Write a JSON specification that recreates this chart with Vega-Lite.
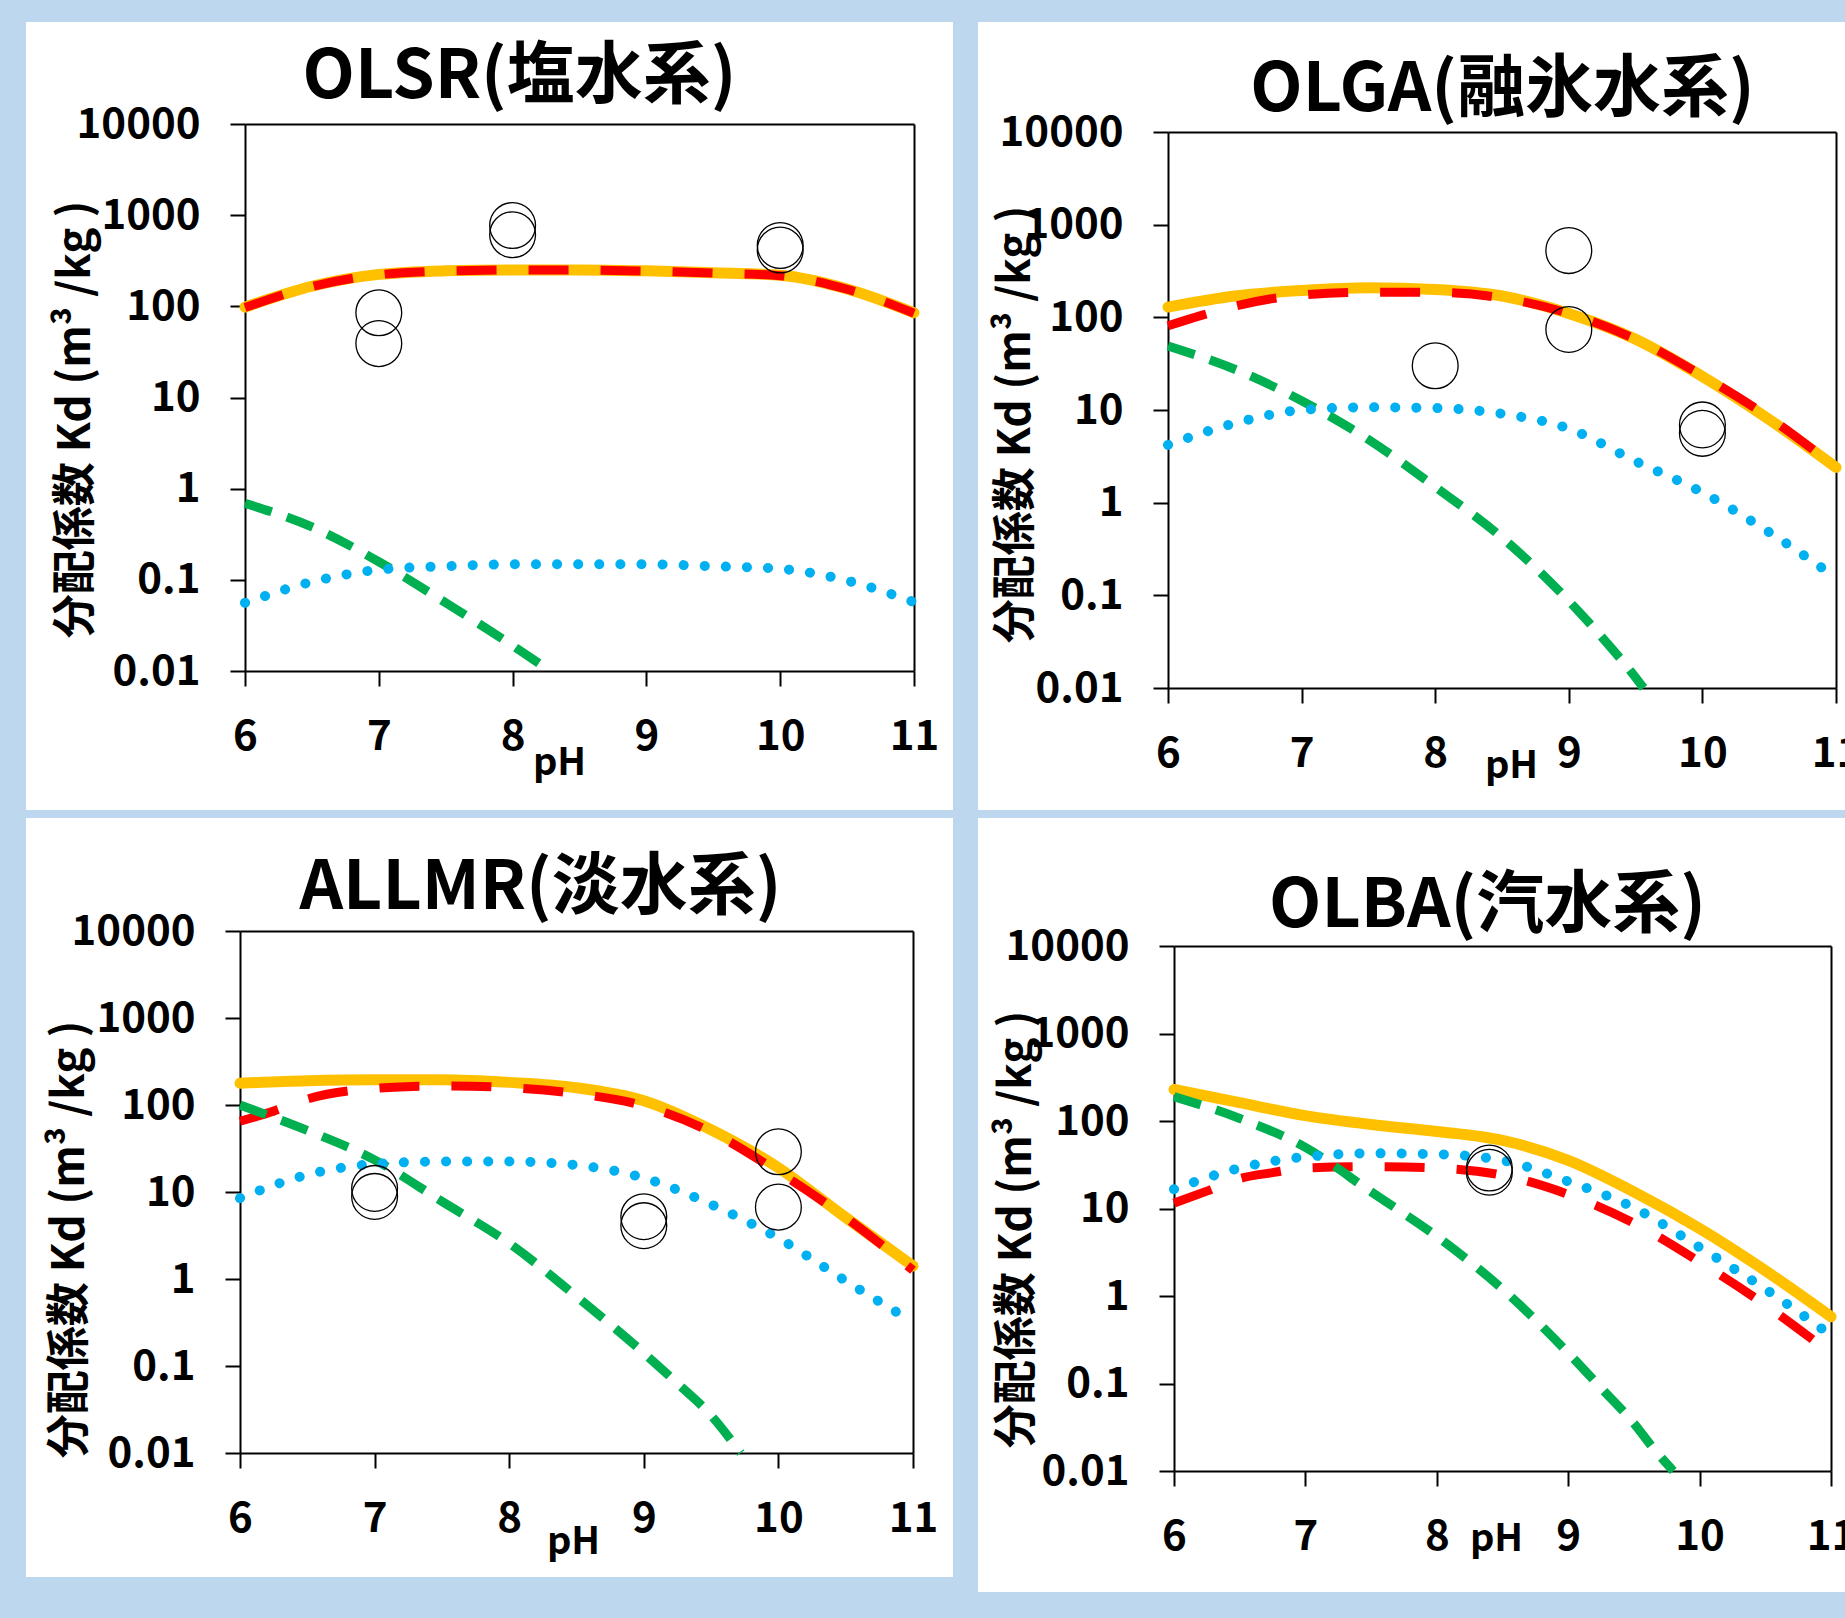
{
  "$schema": "https://vega.github.io/schema/vega-lite/v6.json",
  "background": "#BDD7EE",
  "padding": {"left": 26, "top": 22, "right": -15, "bottom": 26},
  "datasets": {
    "curves": [
      {"p":"OLSR","s":"total","pH":6,"Kd":98},{"p":"OLSR","s":"total","pH":6.5,"Kd":166},{"p":"OLSR","s":"total","pH":7,"Kd":224},{"p":"OLSR","s":"total","pH":7.5,"Kd":245},{"p":"OLSR","s":"total","pH":8,"Kd":251},{"p":"OLSR","s":"total","pH":8.5,"Kd":251},{"p":"OLSR","s":"total","pH":9,"Kd":245},{"p":"OLSR","s":"total","pH":9.5,"Kd":234},{"p":"OLSR","s":"total","pH":10,"Kd":219},{"p":"OLSR","s":"total","pH":10.5,"Kd":155},{"p":"OLSR","s":"total","pH":11,"Kd":85},
      {"p":"OLSR","s":"a","pH":6,"Kd":97},{"p":"OLSR","s":"a","pH":6.5,"Kd":165},{"p":"OLSR","s":"a","pH":7,"Kd":222},{"p":"OLSR","s":"a","pH":7.5,"Kd":244},{"p":"OLSR","s":"a","pH":8,"Kd":250},{"p":"OLSR","s":"a","pH":8.5,"Kd":250},{"p":"OLSR","s":"a","pH":9,"Kd":244},{"p":"OLSR","s":"a","pH":9.5,"Kd":232},{"p":"OLSR","s":"a","pH":10,"Kd":217},{"p":"OLSR","s":"a","pH":10.5,"Kd":154},{"p":"OLSR","s":"a","pH":11,"Kd":84},
      {"p":"OLSR","s":"b","pH":6,"Kd":0.69},{"p":"OLSR","s":"b","pH":6.5,"Kd":0.38},{"p":"OLSR","s":"b","pH":7,"Kd":0.158},{"p":"OLSR","s":"b","pH":7.5,"Kd":0.056},{"p":"OLSR","s":"b","pH":8,"Kd":0.019},{"p":"OLSR","s":"b","pH":8.28,"Kd":0.01},
      {"p":"OLSR","s":"c","pH":6,"Kd":0.056},{"p":"OLSR","s":"c","pH":6.5,"Kd":0.095},{"p":"OLSR","s":"c","pH":7,"Kd":0.129},{"p":"OLSR","s":"c","pH":7.5,"Kd":0.141},{"p":"OLSR","s":"c","pH":8,"Kd":0.148},{"p":"OLSR","s":"c","pH":8.5,"Kd":0.148},{"p":"OLSR","s":"c","pH":9,"Kd":0.148},{"p":"OLSR","s":"c","pH":9.5,"Kd":0.141},{"p":"OLSR","s":"c","pH":10,"Kd":0.132},{"p":"OLSR","s":"c","pH":10.5,"Kd":0.098},{"p":"OLSR","s":"c","pH":11,"Kd":0.057},

      {"p":"OLGA","s":"total","pH":6,"Kd":129},{"p":"OLGA","s":"total","pH":6.5,"Kd":170},{"p":"OLGA","s":"total","pH":7,"Kd":195},{"p":"OLGA","s":"total","pH":7.5,"Kd":209},{"p":"OLGA","s":"total","pH":8,"Kd":200},{"p":"OLGA","s":"total","pH":8.5,"Kd":170},{"p":"OLGA","s":"total","pH":9,"Kd":110},{"p":"OLGA","s":"total","pH":9.5,"Kd":58},{"p":"OLGA","s":"total","pH":10,"Kd":23},{"p":"OLGA","s":"total","pH":10.5,"Kd":7.9},{"p":"OLGA","s":"total","pH":11,"Kd":2.4},
      {"p":"OLGA","s":"a","pH":6,"Kd":81},{"p":"OLGA","s":"a","pH":6.25,"Kd":105},{"p":"OLGA","s":"a","pH":6.5,"Kd":132},{"p":"OLGA","s":"a","pH":7,"Kd":174},{"p":"OLGA","s":"a","pH":7.5,"Kd":186},{"p":"OLGA","s":"a","pH":8,"Kd":186},{"p":"OLGA","s":"a","pH":8.5,"Kd":162},{"p":"OLGA","s":"a","pH":9,"Kd":110},{"p":"OLGA","s":"a","pH":9.5,"Kd":58},{"p":"OLGA","s":"a","pH":10,"Kd":23.4},{"p":"OLGA","s":"a","pH":10.5,"Kd":8.3},{"p":"OLGA","s":"a","pH":11,"Kd":2.4},
      {"p":"OLGA","s":"b","pH":6,"Kd":49},{"p":"OLGA","s":"b","pH":6.5,"Kd":27.5},{"p":"OLGA","s":"b","pH":7,"Kd":12.6},{"p":"OLGA","s":"b","pH":7.5,"Kd":4.8},{"p":"OLGA","s":"b","pH":8,"Kd":1.48},{"p":"OLGA","s":"b","pH":8.5,"Kd":0.42},{"p":"OLGA","s":"b","pH":9,"Kd":0.087},{"p":"OLGA","s":"b","pH":9.25,"Kd":0.035},{"p":"OLGA","s":"b","pH":9.5,"Kd":0.013},{"p":"OLGA","s":"b","pH":9.56,"Kd":0.01},
      {"p":"OLGA","s":"c","pH":6,"Kd":4.2},{"p":"OLGA","s":"c","pH":6.5,"Kd":7.2},{"p":"OLGA","s":"c","pH":7,"Kd":10},{"p":"OLGA","s":"c","pH":7.5,"Kd":10.7},{"p":"OLGA","s":"c","pH":8,"Kd":10.5},{"p":"OLGA","s":"c","pH":8.5,"Kd":9.1},{"p":"OLGA","s":"c","pH":9,"Kd":6.3},{"p":"OLGA","s":"c","pH":9.5,"Kd":2.8},{"p":"OLGA","s":"c","pH":10,"Kd":1.29},{"p":"OLGA","s":"c","pH":10.5,"Kd":0.48},{"p":"OLGA","s":"c","pH":11,"Kd":0.155},

      {"p":"ALLMR","s":"total","pH":6,"Kd":178},{"p":"ALLMR","s":"total","pH":6.5,"Kd":190},{"p":"ALLMR","s":"total","pH":7,"Kd":195},{"p":"ALLMR","s":"total","pH":7.5,"Kd":195},{"p":"ALLMR","s":"total","pH":8,"Kd":182},{"p":"ALLMR","s":"total","pH":8.5,"Kd":158},{"p":"ALLMR","s":"total","pH":9,"Kd":112},{"p":"ALLMR","s":"total","pH":9.5,"Kd":52},{"p":"ALLMR","s":"total","pH":10,"Kd":19},{"p":"ALLMR","s":"total","pH":10.5,"Kd":5.1},{"p":"ALLMR","s":"total","pH":11,"Kd":1.41},
      {"p":"ALLMR","s":"a","pH":6,"Kd":65},{"p":"ALLMR","s":"a","pH":6.25,"Kd":85},{"p":"ALLMR","s":"a","pH":6.5,"Kd":117},{"p":"ALLMR","s":"a","pH":7,"Kd":155},{"p":"ALLMR","s":"a","pH":7.5,"Kd":166},{"p":"ALLMR","s":"a","pH":8,"Kd":158},{"p":"ALLMR","s":"a","pH":8.5,"Kd":135},{"p":"ALLMR","s":"a","pH":9,"Kd":98},{"p":"ALLMR","s":"a","pH":9.5,"Kd":49},{"p":"ALLMR","s":"a","pH":10,"Kd":17},{"p":"ALLMR","s":"a","pH":10.5,"Kd":5.1},{"p":"ALLMR","s":"a","pH":11,"Kd":1.26},
      {"p":"ALLMR","s":"b","pH":6,"Kd":100},{"p":"ALLMR","s":"b","pH":6.5,"Kd":51},{"p":"ALLMR","s":"b","pH":7,"Kd":23.4},{"p":"ALLMR","s":"b","pH":7.5,"Kd":7.8},{"p":"ALLMR","s":"b","pH":8,"Kd":2.57},{"p":"ALLMR","s":"b","pH":8.5,"Kd":0.63},{"p":"ALLMR","s":"b","pH":9,"Kd":0.141},{"p":"ALLMR","s":"b","pH":9.25,"Kd":0.063},{"p":"ALLMR","s":"b","pH":9.5,"Kd":0.027},{"p":"ALLMR","s":"b","pH":9.72,"Kd":0.01},
      {"p":"ALLMR","s":"c","pH":6,"Kd":8.5},{"p":"ALLMR","s":"c","pH":6.5,"Kd":15.8},{"p":"ALLMR","s":"c","pH":7,"Kd":21},{"p":"ALLMR","s":"c","pH":7.5,"Kd":22.4},{"p":"ALLMR","s":"c","pH":8,"Kd":22.4},{"p":"ALLMR","s":"c","pH":8.5,"Kd":20.4},{"p":"ALLMR","s":"c","pH":9,"Kd":14.5},{"p":"ALLMR","s":"c","pH":9.5,"Kd":7.2},{"p":"ALLMR","s":"c","pH":10,"Kd":2.95},{"p":"ALLMR","s":"c","pH":10.5,"Kd":0.95},{"p":"ALLMR","s":"c","pH":11,"Kd":0.32},

      {"p":"OLBA","s":"total","pH":6,"Kd":229},{"p":"OLBA","s":"total","pH":6.5,"Kd":162},{"p":"OLBA","s":"total","pH":7,"Kd":115},{"p":"OLBA","s":"total","pH":7.5,"Kd":91},{"p":"OLBA","s":"total","pH":8,"Kd":76},{"p":"OLBA","s":"total","pH":8.5,"Kd":60},{"p":"OLBA","s":"total","pH":9,"Kd":35.5},{"p":"OLBA","s":"total","pH":9.5,"Kd":15.5},{"p":"OLBA","s":"total","pH":10,"Kd":5.9},{"p":"OLBA","s":"total","pH":10.5,"Kd":1.95},{"p":"OLBA","s":"total","pH":11,"Kd":0.58},
      {"p":"OLBA","s":"a","pH":6,"Kd":11.5},{"p":"OLBA","s":"a","pH":6.25,"Kd":15.8},{"p":"OLBA","s":"a","pH":6.5,"Kd":22},{"p":"OLBA","s":"a","pH":6.75,"Kd":25.7},{"p":"OLBA","s":"a","pH":7,"Kd":29},{"p":"OLBA","s":"a","pH":7.5,"Kd":30},{"p":"OLBA","s":"a","pH":8,"Kd":29},{"p":"OLBA","s":"a","pH":8.5,"Kd":24},{"p":"OLBA","s":"a","pH":9,"Kd":14.5},{"p":"OLBA","s":"a","pH":9.5,"Kd":6.8},{"p":"OLBA","s":"a","pH":10,"Kd":2.45},{"p":"OLBA","s":"a","pH":10.5,"Kd":0.79},{"p":"OLBA","s":"a","pH":11,"Kd":0.22},
      {"p":"OLBA","s":"b","pH":6,"Kd":190},{"p":"OLBA","s":"b","pH":6.5,"Kd":107},{"p":"OLBA","s":"b","pH":7,"Kd":50},{"p":"OLBA","s":"b","pH":7.5,"Kd":15.5},{"p":"OLBA","s":"b","pH":8,"Kd":4.8},{"p":"OLBA","s":"b","pH":8.5,"Kd":1.2},{"p":"OLBA","s":"b","pH":9,"Kd":0.224},{"p":"OLBA","s":"b","pH":9.25,"Kd":0.089},{"p":"OLBA","s":"b","pH":9.5,"Kd":0.035},{"p":"OLBA","s":"b","pH":9.65,"Kd":0.018},{"p":"OLBA","s":"b","pH":9.8,"Kd":0.01},
      {"p":"OLBA","s":"c","pH":6,"Kd":16.6},{"p":"OLBA","s":"c","pH":6.5,"Kd":29},{"p":"OLBA","s":"c","pH":7,"Kd":39},{"p":"OLBA","s":"c","pH":7.5,"Kd":42.7},{"p":"OLBA","s":"c","pH":8,"Kd":41.7},{"p":"OLBA","s":"c","pH":8.5,"Kd":35.5},{"p":"OLBA","s":"c","pH":9,"Kd":20.4},{"p":"OLBA","s":"c","pH":9.5,"Kd":10.2},{"p":"OLBA","s":"c","pH":10,"Kd":3.6},{"p":"OLBA","s":"c","pH":10.5,"Kd":1.2},{"p":"OLBA","s":"c","pH":11,"Kd":0.355}
    ],
    "obs": [
      {"p":"OLSR","pH":7,"Kd":85},{"p":"OLSR","pH":7,"Kd":39},{"p":"OLSR","pH":8,"Kd":770},{"p":"OLSR","pH":8,"Kd":610},{"p":"OLSR","pH":10,"Kd":465},{"p":"OLSR","pH":10,"Kd":415},
      {"p":"OLGA","pH":8,"Kd":30},{"p":"OLGA","pH":9,"Kd":525},{"p":"OLGA","pH":9,"Kd":74},{"p":"OLGA","pH":10,"Kd":6.9},{"p":"OLGA","pH":10,"Kd":5.6},
      {"p":"ALLMR","pH":7,"Kd":11},{"p":"ALLMR","pH":7,"Kd":8.9},{"p":"ALLMR","pH":9,"Kd":5.2},{"p":"ALLMR","pH":9,"Kd":4.1},{"p":"ALLMR","pH":10,"Kd":29},{"p":"ALLMR","pH":10,"Kd":6.7},
      {"p":"OLBA","pH":8.4,"Kd":29},{"p":"OLBA","pH":8.4,"Kd":26}
    ]
  },
  "vconcat": [
    {
      "hconcat": [
        {
          "width": 927, "height": 788,
          "title": {"text": "OLSR(塩水系)", "fontSize": 68, "fontWeight": "bold", "color": "black", "anchor": "middle", "frame": "group", "offset": -67, "baseline": "alphabetic", "dx": 30, "dy": 77},
          "layer": [
            {
              "encoding": {
                "x": {"field": "pH", "type": "quantitative", "scale": {"domain": [6, 11], "range": [219, 888], "nice": false, "zero": false},
                      "axis": {"orient": "bottom", "offset": -139, "values": [6,7,8,9,10,11], "format": "d", "title": "pH", "titleX": 533, "titleY": 103, "titleBaseline": "alphabetic", "titleAlign": "center", "titleFontSize": 38, "labelPadding": 30}},
                "y": {"field": "Kd", "type": "quantitative", "scale": {"type": "log", "domain": [0.01, 10000], "range": [649, 102], "nice": false},
                      "axis": {"orient": "left", "offset": -219, "values": [0.01,0.1,1,10,100,1000,10000], "format": "~g", "title": "分配係数 Kd (m³ /kg )", "titleX": -169, "titleY": 397, "titleAlign": "center", "titleBaseline": "middle", "titleAngle": -90, "titleFontSize": 44, "labelPadding": 30}}
              },
              "layer": [
                {"data": {"name": "curves"}, "transform": [{"filter": "datum.p === 'OLSR' && datum.s === 'total'"}], "mark": {"type": "line", "color": "#FFC000", "strokeWidth": 11, "interpolate": "monotone", "strokeCap": "round"}},
                {"data": {"name": "curves"}, "transform": [{"filter": "datum.p === 'OLSR' && datum.s === 'a'"}], "mark": {"type": "line", "color": "#FF0000", "strokeWidth": 9, "interpolate": "monotone", "strokeDash": [40, 32]}},
                {"data": {"name": "curves"}, "transform": [{"filter": "datum.p === 'OLSR' && datum.s === 'b'"}], "mark": {"type": "line", "color": "#00B050", "strokeWidth": 9, "interpolate": "monotone", "strokeDash": [28, 16]}},
                {"data": {"name": "curves"}, "transform": [{"filter": "datum.p === 'OLSR' && datum.s === 'c'"}], "mark": {"type": "line", "color": "#00B0F0", "strokeWidth": 10, "interpolate": "monotone", "strokeDash": [0.1, 21], "strokeCap": "round"}}
              ]
            },
            {
              "data": {"name": "obs"}, "transform": [{"filter": "datum.p === 'OLSR'"}],
              "mark": {"type": "point", "shape": "circle", "filled": false, "stroke": "black", "strokeWidth": 1.3, "size": 2100, "opacity": 1},
              "encoding": {
                "x": {"field": "pH", "type": "quantitative", "axis": {"orient": "top", "offset": -102, "labels": false, "ticks": false, "title": null}},
                "y": {"field": "Kd", "type": "quantitative", "axis": {"orient": "right", "offset": -39, "labels": false, "ticks": false, "title": null}}
              }
            }
          ],
          "resolve": {"axis": {"x": "independent", "y": "independent"}}
        },
        {
          "width": 867, "height": 788,
          "title": {"text": "OLGA(融氷水系)", "fontSize": 68, "fontWeight": "bold", "color": "black", "anchor": "middle", "frame": "group", "offset": -80, "baseline": "alphabetic", "dx": 91, "dy": 77},
          "layer": [
            {
              "encoding": {
                "x": {"field": "pH", "type": "quantitative", "scale": {"domain": [6, 11], "range": [190, 858], "nice": false, "zero": false},
                      "axis": {"orient": "bottom", "offset": -122, "values": [6,7,8,9,10,11], "format": "d", "title": "pH", "titleX": 533, "titleY": 89, "titleBaseline": "alphabetic", "titleAlign": "center", "titleFontSize": 38, "labelPadding": 30}},
                "y": {"field": "Kd", "type": "quantitative", "scale": {"type": "log", "domain": [0.01, 10000], "range": [666, 110], "nice": false},
                      "axis": {"orient": "left", "offset": -190, "values": [0.01,0.1,1,10,100,1000,10000], "format": "~g", "title": "分配係数 Kd (m³ /kg )", "titleX": -152, "titleY": 402, "titleAlign": "center", "titleBaseline": "middle", "titleAngle": -90, "titleFontSize": 44, "labelPadding": 30}}
              },
              "layer": [
                {"data": {"name": "curves"}, "transform": [{"filter": "datum.p === 'OLGA' && datum.s === 'total'"}], "mark": {"type": "line", "color": "#FFC000", "strokeWidth": 11, "interpolate": "monotone", "strokeCap": "round"}},
                {"data": {"name": "curves"}, "transform": [{"filter": "datum.p === 'OLGA' && datum.s === 'a'"}], "mark": {"type": "line", "color": "#FF0000", "strokeWidth": 9, "interpolate": "monotone", "strokeDash": [40, 32]}},
                {"data": {"name": "curves"}, "transform": [{"filter": "datum.p === 'OLGA' && datum.s === 'b'"}], "mark": {"type": "line", "color": "#00B050", "strokeWidth": 9, "interpolate": "monotone", "strokeDash": [28, 16]}},
                {"data": {"name": "curves"}, "transform": [{"filter": "datum.p === 'OLGA' && datum.s === 'c'"}], "mark": {"type": "line", "color": "#00B0F0", "strokeWidth": 10, "interpolate": "monotone", "strokeDash": [0.1, 21], "strokeCap": "round"}}
              ]
            },
            {
              "data": {"name": "obs"}, "transform": [{"filter": "datum.p === 'OLGA'"}],
              "mark": {"type": "point", "shape": "circle", "filled": false, "stroke": "black", "strokeWidth": 1.3, "size": 2100, "opacity": 1},
              "encoding": {
                "x": {"field": "pH", "type": "quantitative", "axis": {"orient": "top", "offset": -110, "labels": false, "ticks": false, "title": null}},
                "y": {"field": "Kd", "type": "quantitative", "axis": {"orient": "right", "offset": -9, "labels": false, "ticks": false, "title": null}}
              }
            }
          ],
          "resolve": {"axis": {"x": "independent", "y": "independent"}}
        }
      ],
      "spacing": 25
    },
    {
      "hconcat": [
        {
          "width": 927, "height": 759,
          "title": {"text": "ALLMR(淡水系)", "fontSize": 68, "fontWeight": "bold", "color": "black", "anchor": "middle", "frame": "group", "offset": -82, "baseline": "alphabetic", "dx": 51, "dy": 77},
          "layer": [
            {
              "encoding": {
                "x": {"field": "pH", "type": "quantitative", "scale": {"domain": [6, 11], "range": [214, 887], "nice": false, "zero": false},
                      "axis": {"orient": "bottom", "offset": -124, "values": [6,7,8,9,10,11], "format": "d", "title": "pH", "titleX": 547, "titleY": 100, "titleBaseline": "alphabetic", "titleAlign": "center", "titleFontSize": 38, "labelPadding": 30}},
                "y": {"field": "Kd", "type": "quantitative", "scale": {"type": "log", "domain": [0.01, 10000], "range": [635, 113], "nice": false},
                      "axis": {"orient": "left", "offset": -214, "values": [0.01,0.1,1,10,100,1000,10000], "format": "~g", "title": "分配係数 Kd (m³ /kg )", "titleX": -170, "titleY": 421, "titleAlign": "center", "titleBaseline": "middle", "titleAngle": -90, "titleFontSize": 44, "labelPadding": 30}}
              },
              "layer": [
                {"data": {"name": "curves"}, "transform": [{"filter": "datum.p === 'ALLMR' && datum.s === 'total'"}], "mark": {"type": "line", "color": "#FFC000", "strokeWidth": 11, "interpolate": "monotone", "strokeCap": "round"}},
                {"data": {"name": "curves"}, "transform": [{"filter": "datum.p === 'ALLMR' && datum.s === 'a'"}], "mark": {"type": "line", "color": "#FF0000", "strokeWidth": 9, "interpolate": "monotone", "strokeDash": [40, 32]}},
                {"data": {"name": "curves"}, "transform": [{"filter": "datum.p === 'ALLMR' && datum.s === 'b'"}], "mark": {"type": "line", "color": "#00B050", "strokeWidth": 9, "interpolate": "monotone", "strokeDash": [28, 16]}},
                {"data": {"name": "curves"}, "transform": [{"filter": "datum.p === 'ALLMR' && datum.s === 'c'"}], "mark": {"type": "line", "color": "#00B0F0", "strokeWidth": 10, "interpolate": "monotone", "strokeDash": [0.1, 21], "strokeCap": "round"}}
              ]
            },
            {
              "data": {"name": "obs"}, "transform": [{"filter": "datum.p === 'ALLMR'"}],
              "mark": {"type": "point", "shape": "circle", "filled": false, "stroke": "black", "strokeWidth": 1.3, "size": 2100, "opacity": 1},
              "encoding": {
                "x": {"field": "pH", "type": "quantitative", "axis": {"orient": "top", "offset": -113, "labels": false, "ticks": false, "title": null}},
                "y": {"field": "Kd", "type": "quantitative", "axis": {"orient": "right", "offset": -40, "labels": false, "ticks": false, "title": null}}
              }
            }
          ],
          "resolve": {"axis": {"x": "independent", "y": "independent"}}
        },
        {
          "width": 867, "height": 774,
          "title": {"text": "OLBA(汽水系)", "fontSize": 68, "fontWeight": "bold", "color": "black", "anchor": "middle", "frame": "group", "offset": -100, "baseline": "alphabetic", "dx": 76, "dy": 77},
          "layer": [
            {
              "encoding": {
                "x": {"field": "pH", "type": "quantitative", "scale": {"domain": [6, 11], "range": [196, 853], "nice": false, "zero": false},
                      "axis": {"orient": "bottom", "offset": -121, "values": [6,7,8,9,10,11], "format": "d", "title": "pH", "titleX": 518, "titleY": 79, "titleBaseline": "alphabetic", "titleAlign": "center", "titleFontSize": 38, "labelPadding": 30}},
                "y": {"field": "Kd", "type": "quantitative", "scale": {"type": "log", "domain": [0.01, 10000], "range": [653, 128], "nice": false},
                      "axis": {"orient": "left", "offset": -196, "values": [0.01,0.1,1,10,100,1000,10000], "format": "~g", "title": "分配係数 Kd (m³ /kg )", "titleX": -157, "titleY": 411, "titleAlign": "center", "titleBaseline": "middle", "titleAngle": -90, "titleFontSize": 44, "labelPadding": 30}}
              },
              "layer": [
                {"data": {"name": "curves"}, "transform": [{"filter": "datum.p === 'OLBA' && datum.s === 'total'"}], "mark": {"type": "line", "color": "#FFC000", "strokeWidth": 11, "interpolate": "monotone", "strokeCap": "round"}},
                {"data": {"name": "curves"}, "transform": [{"filter": "datum.p === 'OLBA' && datum.s === 'a'"}], "mark": {"type": "line", "color": "#FF0000", "strokeWidth": 9, "interpolate": "monotone", "strokeDash": [40, 32]}},
                {"data": {"name": "curves"}, "transform": [{"filter": "datum.p === 'OLBA' && datum.s === 'b'"}], "mark": {"type": "line", "color": "#00B050", "strokeWidth": 9, "interpolate": "monotone", "strokeDash": [28, 16]}},
                {"data": {"name": "curves"}, "transform": [{"filter": "datum.p === 'OLBA' && datum.s === 'c'"}], "mark": {"type": "line", "color": "#00B0F0", "strokeWidth": 10, "interpolate": "monotone", "strokeDash": [0.1, 21], "strokeCap": "round"}}
              ]
            },
            {
              "data": {"name": "obs"}, "transform": [{"filter": "datum.p === 'OLBA'"}],
              "mark": {"type": "point", "shape": "circle", "filled": false, "stroke": "black", "strokeWidth": 1.3, "size": 2100, "opacity": 1},
              "encoding": {
                "x": {"field": "pH", "type": "quantitative", "axis": {"orient": "top", "offset": -128, "labels": false, "ticks": false, "title": null}},
                "y": {"field": "Kd", "type": "quantitative", "axis": {"orient": "right", "offset": -14, "labels": false, "ticks": false, "title": null}}
              }
            }
          ],
          "resolve": {"axis": {"x": "independent", "y": "independent"}}
        }
      ],
      "spacing": 25
    }
  ],
  "spacing": 8,
  "config": {
    "font": "Noto Sans CJK JP",
    "view": {"fill": "white", "stroke": null},
    "axis": {"grid": false, "domainColor": "black", "domainWidth": 2, "tickColor": "black", "tickWidth": 2, "tickSize": 15, "labelFont": "Noto Sans CJK JP", "labelFontSize": 42, "labelFontWeight": "bold", "labelColor": "black", "labelFlush": false, "labelOverlap": false, "titleFont": "Noto Sans CJK JP", "titleFontWeight": "bold", "titleColor": "black"},
    "title": {"font": "Noto Sans CJK JP"}
  }
}
